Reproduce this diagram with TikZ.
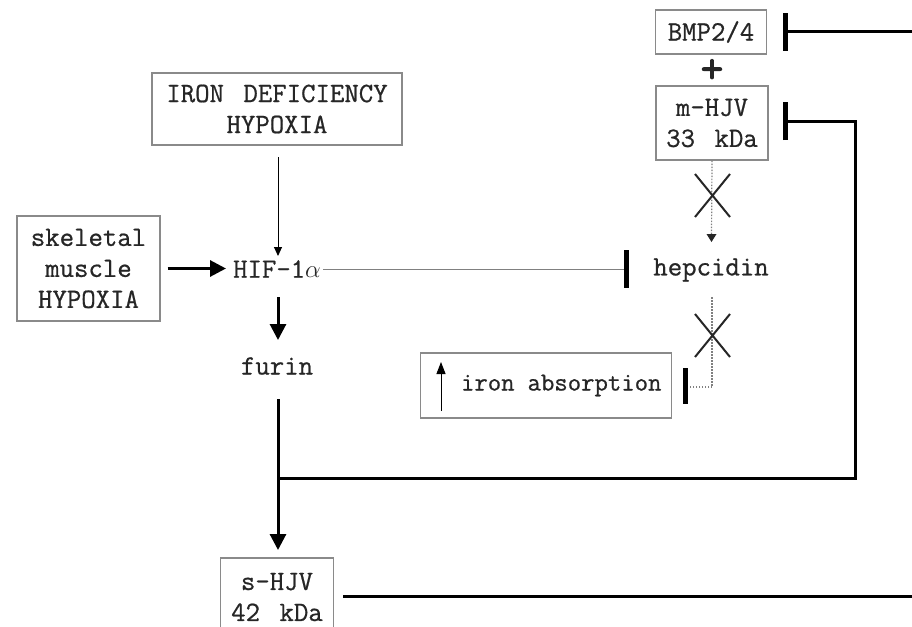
\documentclass[tikz,border=0pt]{standalone}
\usepackage{fontspec}
\newfontfamily\labelfont{Latin Modern Mono}[FakeBold=0.7,WordSpace=1.35]
\newfontfamily\plusfont{Latin Modern Mono}[FakeBold=2.5]
\usetikzlibrary{arrows.meta}
\definecolor{boxline}{HTML}{8A8A8A}
\definecolor{ink}{HTML}{262626}
\begin{document}
\begin{tikzpicture}[x=1pt,y=-1pt,
  lbl/.style={font=\labelfont\fontsize{28}{31}\selectfont, text=ink, align=center, inner sep=0pt},
  box/.style={lbl, draw=boxline, line width=1.4pt, fill=white},
  strong/.style={line width=3pt, -{Triangle[length=16pt,width=16pt]}},
  weak/.style={line width=1pt, -{Triangle[length=9pt,width=8pt]}},
  block/.style={line width=3pt, -{Bar[width=38pt,line width=5pt]}},
  dotline/.style={line width=1.2pt, gray, dash pattern=on 1.5pt off 1.5pt},
  crossmark/.style={line width=2pt, ink}]
\clip (0,0) rectangle (912,626);
\fill[white] (0,0) rectangle (912,626);

% boxed entities
\node[box, minimum width=111pt, minimum height=44pt] (bmp) at (711,32) {BMP2/4};
\node[lbl, font=\plusfont\fontsize{44}{44}\selectfont] (plus) at (712,71) {+};
\node[box, minimum width=112pt, minimum height=74pt] (mhjv) at (712,123) {m-HJV\\33 kDa};
\node[box, minimum width=250pt, minimum height=72pt] (irondef) at (277,109) {IRON DEFICIENCY\\HYPOXIA};
\node[box, minimum width=143pt, minimum height=105pt] (skel) at (88.5,268.5) {skeletal\\muscle\\HYPOXIA};
\node[box, font=\labelfont\fontsize{26}{30}\selectfont, minimum width=251pt, minimum height=65pt, text width=231pt, align=right] (absorb) at (546,385.5) {iron\hspace{13pt}absorption};
\node[box, minimum width=113pt, minimum height=78pt] (shjv) at (277,597) {s-HJV\\42 kDa};

% plain labels
\node[lbl] (hif) at (277,269) {HIF-1$\alpha$};
\node[lbl] (hep) at (711,270) {hepcidin};
\node[lbl] (furin) at (277,366) {furin};

% named points on the connectors
\coordinate (j) at (278,478);
\coordinate (corner) at (855,478);
\coordinate (rtop) at (912,32);
\coordinate (rbot) at (912,596);
\coordinate (hepbend) at (712,387);

% activating arrows
\draw[weak] (278,157) -- (278,256);
\draw[strong] (skel.east) ++(7,0) -- (226,268.5);
\draw[strong] (278,297) -- (278,340);
\draw[line width=3pt] (278,399) -- (j);
\draw[strong] (j) -- (278,550);
\draw[line width=1pt, -{Triangle[length=12pt,width=9pt]}] (441,411) -- (441,362);

% inhibitions
\draw[block] (rtop) -- (783,32);
\draw[block] (j) -- (corner) -- (855,121) -- (783,121);
\draw[line width=1pt, gray] (323,269) -- (624,269);
\draw[line width=5pt] (626,250) -- (626,288);
\draw[line width=3pt] (343,596) -- (rbot);

% blocked hepcidin pathway
\draw[dotline] (mhjv.south) -- (711.5,236);
\fill[ink] (706.5,234) -- (716.5,234) -- (711.5,242) -- cycle;
\draw[dotline] (712,297) -- (hepbend) -- (688,387);
\draw[line width=5pt] (685,368) -- (685,404);

% crosses over the dotted links
\draw[crossmark] (695,174) -- (730,217) (730,174) -- (695,217);
\draw[crossmark] (695,314) -- (730,357) (730,314) -- (695,357);
\end{tikzpicture}
\end{document}
